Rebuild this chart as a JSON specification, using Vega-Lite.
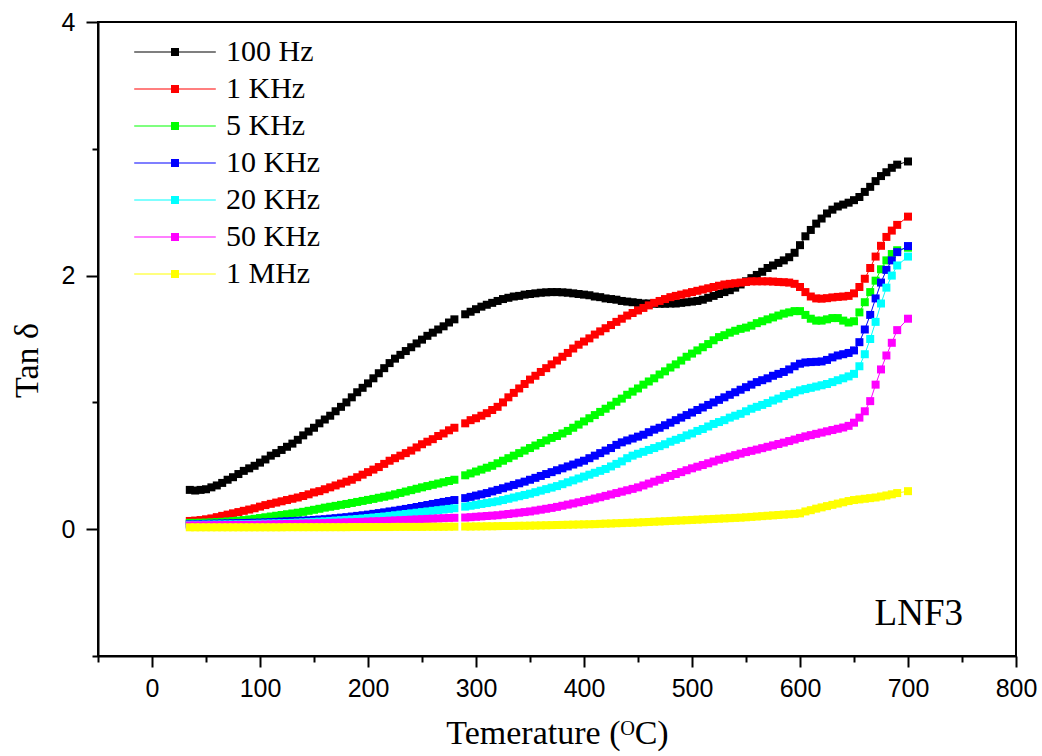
{
  "$schema": "https://vega.github.io/schema/vega-lite/v6.json",
  "width": 918,
  "height": 634,
  "autosize": {"type": "none"},
  "padding": {"left": 98, "top": 22, "right": 26, "bottom": 100},
  "background": "white",
  "config": {
    "font": "Liberation Sans",
    "view": {"stroke": "black", "strokeWidth": 2},
    "axis": {"grid": false, "domainColor": "black", "domainWidth": 2, "tickColor": "black", "tickWidth": 2, "labelColor": "black", "labelFont": "Liberation Sans", "labelFontSize": 25, "titleFont": "Liberation Serif", "titleFontSize": 34, "titleFontWeight": "normal", "titleColor": "black", "labelFlush": false, "labelOverlap": false}
  },
  "data": {"values": [
{"s":"100 Hz","t":35,"v":0.31},{"s":"100 Hz","t":40,"v":0.305},{"s":"100 Hz","t":45,"v":0.31},{"s":"100 Hz","t":50,"v":0.315},{"s":"100 Hz","t":55,"v":0.33},{"s":"100 Hz","t":60,"v":0.345},{"s":"100 Hz","t":65,"v":0.365},{"s":"100 Hz","t":70,"v":0.39},{"s":"100 Hz","t":75,"v":0.41},{"s":"100 Hz","t":80,"v":0.435},{"s":"100 Hz","t":85,"v":0.46},{"s":"100 Hz","t":90,"v":0.48},{"s":"100 Hz","t":95,"v":0.5},{"s":"100 Hz","t":100,"v":0.525},{"s":"100 Hz","t":105,"v":0.55},{"s":"100 Hz","t":110,"v":0.58},{"s":"100 Hz","t":115,"v":0.6},{"s":"100 Hz","t":120,"v":0.625},{"s":"100 Hz","t":125,"v":0.65},{"s":"100 Hz","t":130,"v":0.675},{"s":"100 Hz","t":135,"v":0.705},{"s":"100 Hz","t":140,"v":0.74},{"s":"100 Hz","t":145,"v":0.77},{"s":"100 Hz","t":150,"v":0.8},{"s":"100 Hz","t":155,"v":0.835},{"s":"100 Hz","t":160,"v":0.865},{"s":"100 Hz","t":165,"v":0.895},{"s":"100 Hz","t":170,"v":0.93},{"s":"100 Hz","t":175,"v":0.965},{"s":"100 Hz","t":180,"v":1.0},{"s":"100 Hz","t":185,"v":1.04},{"s":"100 Hz","t":190,"v":1.08},{"s":"100 Hz","t":195,"v":1.115},{"s":"100 Hz","t":200,"v":1.15},{"s":"100 Hz","t":205,"v":1.19},{"s":"100 Hz","t":210,"v":1.23},{"s":"100 Hz","t":215,"v":1.27},{"s":"100 Hz","t":220,"v":1.31},{"s":"100 Hz","t":225,"v":1.345},{"s":"100 Hz","t":230,"v":1.375},{"s":"100 Hz","t":235,"v":1.405},{"s":"100 Hz","t":240,"v":1.435},{"s":"100 Hz","t":245,"v":1.465},{"s":"100 Hz","t":250,"v":1.495},{"s":"100 Hz","t":255,"v":1.525},{"s":"100 Hz","t":260,"v":1.55},{"s":"100 Hz","t":265,"v":1.575},{"s":"100 Hz","t":270,"v":1.6},{"s":"100 Hz","t":275,"v":1.63},{"s":"100 Hz","t":280,"v":1.655},
{"s":"100 Hz","t":290,"v":1.695},{"s":"100 Hz","t":295,"v":1.715},{"s":"100 Hz","t":300,"v":1.735},{"s":"100 Hz","t":305,"v":1.755},{"s":"100 Hz","t":310,"v":1.77},{"s":"100 Hz","t":315,"v":1.785},{"s":"100 Hz","t":320,"v":1.8},{"s":"100 Hz","t":325,"v":1.815},{"s":"100 Hz","t":330,"v":1.825},{"s":"100 Hz","t":335,"v":1.835},{"s":"100 Hz","t":340,"v":1.84},{"s":"100 Hz","t":345,"v":1.85},{"s":"100 Hz","t":350,"v":1.855},{"s":"100 Hz","t":355,"v":1.86},{"s":"100 Hz","t":360,"v":1.865},{"s":"100 Hz","t":365,"v":1.868},{"s":"100 Hz","t":370,"v":1.87},{"s":"100 Hz","t":375,"v":1.87},{"s":"100 Hz","t":380,"v":1.868},{"s":"100 Hz","t":385,"v":1.865},{"s":"100 Hz","t":390,"v":1.86},{"s":"100 Hz","t":395,"v":1.855},{"s":"100 Hz","t":400,"v":1.85},{"s":"100 Hz","t":405,"v":1.845},{"s":"100 Hz","t":410,"v":1.835},{"s":"100 Hz","t":415,"v":1.83},{"s":"100 Hz","t":420,"v":1.82},{"s":"100 Hz","t":425,"v":1.815},{"s":"100 Hz","t":430,"v":1.81},{"s":"100 Hz","t":435,"v":1.8},{"s":"100 Hz","t":440,"v":1.795},{"s":"100 Hz","t":445,"v":1.79},{"s":"100 Hz","t":450,"v":1.785},{"s":"100 Hz","t":455,"v":1.78},{"s":"100 Hz","t":460,"v":1.78},{"s":"100 Hz","t":465,"v":1.778},{"s":"100 Hz","t":470,"v":1.778},{"s":"100 Hz","t":475,"v":1.778},{"s":"100 Hz","t":480,"v":1.78},{"s":"100 Hz","t":485,"v":1.78},{"s":"100 Hz","t":490,"v":1.785},{"s":"100 Hz","t":495,"v":1.79},{"s":"100 Hz","t":500,"v":1.795},{"s":"100 Hz","t":505,"v":1.8},{"s":"100 Hz","t":510,"v":1.81},{"s":"100 Hz","t":515,"v":1.825},{"s":"100 Hz","t":520,"v":1.84},{"s":"100 Hz","t":525,"v":1.855},{"s":"100 Hz","t":530,"v":1.87},{"s":"100 Hz","t":535,"v":1.885},{"s":"100 Hz","t":540,"v":1.905},{"s":"100 Hz","t":545,"v":1.93},{"s":"100 Hz","t":550,"v":1.955},{"s":"100 Hz","t":555,"v":1.98},{"s":"100 Hz","t":560,"v":2.005},{"s":"100 Hz","t":565,"v":2.03},{"s":"100 Hz","t":570,"v":2.06},{"s":"100 Hz","t":575,"v":2.08},{"s":"100 Hz","t":580,"v":2.1},{"s":"100 Hz","t":585,"v":2.12},{"s":"100 Hz","t":590,"v":2.145},{"s":"100 Hz","t":595,"v":2.18},{"s":"100 Hz","t":600,"v":2.24},{"s":"100 Hz","t":605,"v":2.31},{"s":"100 Hz","t":610,"v":2.36},{"s":"100 Hz","t":615,"v":2.41},{"s":"100 Hz","t":620,"v":2.45},{"s":"100 Hz","t":625,"v":2.49},{"s":"100 Hz","t":630,"v":2.52},{"s":"100 Hz","t":635,"v":2.545},{"s":"100 Hz","t":640,"v":2.56},{"s":"100 Hz","t":645,"v":2.575},{"s":"100 Hz","t":650,"v":2.595},{"s":"100 Hz","t":655,"v":2.62},{"s":"100 Hz","t":660,"v":2.66},{"s":"100 Hz","t":665,"v":2.7},{"s":"100 Hz","t":670,"v":2.745},{"s":"100 Hz","t":675,"v":2.785},{"s":"100 Hz","t":680,"v":2.815},{"s":"100 Hz","t":685,"v":2.85},{"s":"100 Hz","t":690,"v":2.875},{"s":"100 Hz","t":700,"v":2.9},
{"s":"1 KHz","t":35,"v":0.065},{"s":"1 KHz","t":40,"v":0.068},{"s":"1 KHz","t":45,"v":0.072},{"s":"1 KHz","t":50,"v":0.078},{"s":"1 KHz","t":55,"v":0.085},{"s":"1 KHz","t":60,"v":0.095},{"s":"1 KHz","t":65,"v":0.105},{"s":"1 KHz","t":70,"v":0.115},{"s":"1 KHz","t":75,"v":0.125},{"s":"1 KHz","t":80,"v":0.135},{"s":"1 KHz","t":85,"v":0.145},{"s":"1 KHz","t":90,"v":0.155},{"s":"1 KHz","t":95,"v":0.165},{"s":"1 KHz","t":100,"v":0.178},{"s":"1 KHz","t":105,"v":0.19},{"s":"1 KHz","t":110,"v":0.2},{"s":"1 KHz","t":115,"v":0.21},{"s":"1 KHz","t":120,"v":0.22},{"s":"1 KHz","t":125,"v":0.23},{"s":"1 KHz","t":130,"v":0.24},{"s":"1 KHz","t":135,"v":0.25},{"s":"1 KHz","t":140,"v":0.262},{"s":"1 KHz","t":145,"v":0.275},{"s":"1 KHz","t":150,"v":0.29},{"s":"1 KHz","t":155,"v":0.3},{"s":"1 KHz","t":160,"v":0.315},{"s":"1 KHz","t":165,"v":0.33},{"s":"1 KHz","t":170,"v":0.345},{"s":"1 KHz","t":175,"v":0.36},{"s":"1 KHz","t":180,"v":0.375},{"s":"1 KHz","t":185,"v":0.39},{"s":"1 KHz","t":190,"v":0.41},{"s":"1 KHz","t":195,"v":0.43},{"s":"1 KHz","t":200,"v":0.45},{"s":"1 KHz","t":205,"v":0.47},{"s":"1 KHz","t":210,"v":0.49},{"s":"1 KHz","t":215,"v":0.515},{"s":"1 KHz","t":220,"v":0.54},{"s":"1 KHz","t":225,"v":0.56},{"s":"1 KHz","t":230,"v":0.58},{"s":"1 KHz","t":235,"v":0.6},{"s":"1 KHz","t":240,"v":0.62},{"s":"1 KHz","t":245,"v":0.645},{"s":"1 KHz","t":250,"v":0.67},{"s":"1 KHz","t":255,"v":0.69},{"s":"1 KHz","t":260,"v":0.71},{"s":"1 KHz","t":265,"v":0.735},{"s":"1 KHz","t":270,"v":0.755},{"s":"1 KHz","t":275,"v":0.78},{"s":"1 KHz","t":280,"v":0.8},
{"s":"1 KHz","t":290,"v":0.835},{"s":"1 KHz","t":295,"v":0.86},{"s":"1 KHz","t":300,"v":0.875},{"s":"1 KHz","t":305,"v":0.895},{"s":"1 KHz","t":310,"v":0.915},{"s":"1 KHz","t":315,"v":0.94},{"s":"1 KHz","t":320,"v":0.965},{"s":"1 KHz","t":325,"v":1.0},{"s":"1 KHz","t":330,"v":1.04},{"s":"1 KHz","t":335,"v":1.075},{"s":"1 KHz","t":340,"v":1.11},{"s":"1 KHz","t":345,"v":1.145},{"s":"1 KHz","t":350,"v":1.18},{"s":"1 KHz","t":355,"v":1.21},{"s":"1 KHz","t":360,"v":1.24},{"s":"1 KHz","t":365,"v":1.27},{"s":"1 KHz","t":370,"v":1.3},{"s":"1 KHz","t":375,"v":1.33},{"s":"1 KHz","t":380,"v":1.36},{"s":"1 KHz","t":385,"v":1.39},{"s":"1 KHz","t":390,"v":1.425},{"s":"1 KHz","t":395,"v":1.455},{"s":"1 KHz","t":400,"v":1.48},{"s":"1 KHz","t":405,"v":1.505},{"s":"1 KHz","t":410,"v":1.535},{"s":"1 KHz","t":415,"v":1.56},{"s":"1 KHz","t":420,"v":1.585},{"s":"1 KHz","t":425,"v":1.61},{"s":"1 KHz","t":430,"v":1.635},{"s":"1 KHz","t":435,"v":1.66},{"s":"1 KHz","t":440,"v":1.685},{"s":"1 KHz","t":445,"v":1.705},{"s":"1 KHz","t":450,"v":1.725},{"s":"1 KHz","t":455,"v":1.745},{"s":"1 KHz","t":460,"v":1.765},{"s":"1 KHz","t":465,"v":1.785},{"s":"1 KHz","t":470,"v":1.8},{"s":"1 KHz","t":475,"v":1.815},{"s":"1 KHz","t":480,"v":1.83},{"s":"1 KHz","t":485,"v":1.84},{"s":"1 KHz","t":490,"v":1.85},{"s":"1 KHz","t":495,"v":1.86},{"s":"1 KHz","t":500,"v":1.87},{"s":"1 KHz","t":505,"v":1.88},{"s":"1 KHz","t":510,"v":1.89},{"s":"1 KHz","t":515,"v":1.9},{"s":"1 KHz","t":520,"v":1.91},{"s":"1 KHz","t":525,"v":1.92},{"s":"1 KHz","t":530,"v":1.93},{"s":"1 KHz","t":535,"v":1.935},{"s":"1 KHz","t":540,"v":1.94},{"s":"1 KHz","t":545,"v":1.945},{"s":"1 KHz","t":550,"v":1.95},{"s":"1 KHz","t":555,"v":1.955},{"s":"1 KHz","t":560,"v":1.955},{"s":"1 KHz","t":565,"v":1.955},{"s":"1 KHz","t":570,"v":1.955},{"s":"1 KHz","t":575,"v":1.953},{"s":"1 KHz","t":580,"v":1.95},{"s":"1 KHz","t":585,"v":1.948},{"s":"1 KHz","t":590,"v":1.945},{"s":"1 KHz","t":595,"v":1.935},{"s":"1 KHz","t":600,"v":1.91},{"s":"1 KHz","t":605,"v":1.87},{"s":"1 KHz","t":610,"v":1.835},{"s":"1 KHz","t":615,"v":1.82},{"s":"1 KHz","t":620,"v":1.818},{"s":"1 KHz","t":625,"v":1.822},{"s":"1 KHz","t":630,"v":1.828},{"s":"1 KHz","t":635,"v":1.832},{"s":"1 KHz","t":640,"v":1.835},{"s":"1 KHz","t":645,"v":1.84},{"s":"1 KHz","t":650,"v":1.86},{"s":"1 KHz","t":655,"v":1.91},{"s":"1 KHz","t":660,"v":1.975},{"s":"1 KHz","t":665,"v":2.06},{"s":"1 KHz","t":670,"v":2.15},{"s":"1 KHz","t":675,"v":2.235},{"s":"1 KHz","t":680,"v":2.305},{"s":"1 KHz","t":685,"v":2.355},{"s":"1 KHz","t":690,"v":2.4},{"s":"1 KHz","t":700,"v":2.465},
{"s":"5 KHz","t":35,"v":0.05},{"s":"5 KHz","t":40,"v":0.05},{"s":"5 KHz","t":45,"v":0.051},{"s":"5 KHz","t":50,"v":0.052},{"s":"5 KHz","t":55,"v":0.054},{"s":"5 KHz","t":60,"v":0.056},{"s":"5 KHz","t":65,"v":0.058},{"s":"5 KHz","t":70,"v":0.061},{"s":"5 KHz","t":75,"v":0.064},{"s":"5 KHz","t":80,"v":0.068},{"s":"5 KHz","t":85,"v":0.072},{"s":"5 KHz","t":90,"v":0.077},{"s":"5 KHz","t":95,"v":0.082},{"s":"5 KHz","t":100,"v":0.088},{"s":"5 KHz","t":105,"v":0.094},{"s":"5 KHz","t":110,"v":0.1},{"s":"5 KHz","t":115,"v":0.106},{"s":"5 KHz","t":120,"v":0.112},{"s":"5 KHz","t":125,"v":0.118},{"s":"5 KHz","t":130,"v":0.124},{"s":"5 KHz","t":135,"v":0.13},{"s":"5 KHz","t":140,"v":0.137},{"s":"5 KHz","t":145,"v":0.145},{"s":"5 KHz","t":150,"v":0.153},{"s":"5 KHz","t":155,"v":0.161},{"s":"5 KHz","t":160,"v":0.17},{"s":"5 KHz","t":165,"v":0.177},{"s":"5 KHz","t":170,"v":0.184},{"s":"5 KHz","t":175,"v":0.192},{"s":"5 KHz","t":180,"v":0.199},{"s":"5 KHz","t":185,"v":0.207},{"s":"5 KHz","t":190,"v":0.215},{"s":"5 KHz","t":195,"v":0.223},{"s":"5 KHz","t":200,"v":0.231},{"s":"5 KHz","t":205,"v":0.239},{"s":"5 KHz","t":210,"v":0.248},{"s":"5 KHz","t":215,"v":0.256},{"s":"5 KHz","t":220,"v":0.265},{"s":"5 KHz","t":225,"v":0.275},{"s":"5 KHz","t":230,"v":0.286},{"s":"5 KHz","t":235,"v":0.297},{"s":"5 KHz","t":240,"v":0.308},{"s":"5 KHz","t":245,"v":0.319},{"s":"5 KHz","t":250,"v":0.33},{"s":"5 KHz","t":255,"v":0.34},{"s":"5 KHz","t":260,"v":0.35},{"s":"5 KHz","t":265,"v":0.36},{"s":"5 KHz","t":270,"v":0.37},{"s":"5 KHz","t":275,"v":0.38},{"s":"5 KHz","t":280,"v":0.39},
{"s":"5 KHz","t":290,"v":0.425},{"s":"5 KHz","t":295,"v":0.44},{"s":"5 KHz","t":300,"v":0.455},{"s":"5 KHz","t":305,"v":0.47},{"s":"5 KHz","t":310,"v":0.485},{"s":"5 KHz","t":315,"v":0.5},{"s":"5 KHz","t":320,"v":0.52},{"s":"5 KHz","t":325,"v":0.54},{"s":"5 KHz","t":330,"v":0.56},{"s":"5 KHz","t":335,"v":0.58},{"s":"5 KHz","t":340,"v":0.6},{"s":"5 KHz","t":345,"v":0.62},{"s":"5 KHz","t":350,"v":0.64},{"s":"5 KHz","t":355,"v":0.66},{"s":"5 KHz","t":360,"v":0.68},{"s":"5 KHz","t":365,"v":0.7},{"s":"5 KHz","t":370,"v":0.72},{"s":"5 KHz","t":375,"v":0.735},{"s":"5 KHz","t":380,"v":0.755},{"s":"5 KHz","t":385,"v":0.775},{"s":"5 KHz","t":390,"v":0.8},{"s":"5 KHz","t":395,"v":0.825},{"s":"5 KHz","t":400,"v":0.85},{"s":"5 KHz","t":405,"v":0.875},{"s":"5 KHz","t":410,"v":0.9},{"s":"5 KHz","t":415,"v":0.925},{"s":"5 KHz","t":420,"v":0.95},{"s":"5 KHz","t":425,"v":0.975},{"s":"5 KHz","t":430,"v":1.005},{"s":"5 KHz","t":435,"v":1.03},{"s":"5 KHz","t":440,"v":1.06},{"s":"5 KHz","t":445,"v":1.085},{"s":"5 KHz","t":450,"v":1.11},{"s":"5 KHz","t":455,"v":1.14},{"s":"5 KHz","t":460,"v":1.165},{"s":"5 KHz","t":465,"v":1.19},{"s":"5 KHz","t":470,"v":1.22},{"s":"5 KHz","t":475,"v":1.245},{"s":"5 KHz","t":480,"v":1.275},{"s":"5 KHz","t":485,"v":1.3},{"s":"5 KHz","t":490,"v":1.33},{"s":"5 KHz","t":495,"v":1.36},{"s":"5 KHz","t":500,"v":1.385},{"s":"5 KHz","t":505,"v":1.41},{"s":"5 KHz","t":510,"v":1.435},{"s":"5 KHz","t":515,"v":1.46},{"s":"5 KHz","t":520,"v":1.49},{"s":"5 KHz","t":525,"v":1.515},{"s":"5 KHz","t":530,"v":1.53},{"s":"5 KHz","t":535,"v":1.55},{"s":"5 KHz","t":540,"v":1.565},{"s":"5 KHz","t":545,"v":1.58},{"s":"5 KHz","t":550,"v":1.59},{"s":"5 KHz","t":555,"v":1.605},{"s":"5 KHz","t":560,"v":1.625},{"s":"5 KHz","t":565,"v":1.64},{"s":"5 KHz","t":570,"v":1.655},{"s":"5 KHz","t":575,"v":1.67},{"s":"5 KHz","t":580,"v":1.685},{"s":"5 KHz","t":585,"v":1.7},{"s":"5 KHz","t":590,"v":1.71},{"s":"5 KHz","t":595,"v":1.72},{"s":"5 KHz","t":600,"v":1.72},{"s":"5 KHz","t":605,"v":1.69},{"s":"5 KHz","t":610,"v":1.66},{"s":"5 KHz","t":615,"v":1.645},{"s":"5 KHz","t":620,"v":1.645},{"s":"5 KHz","t":625,"v":1.655},{"s":"5 KHz","t":630,"v":1.665},{"s":"5 KHz","t":635,"v":1.665},{"s":"5 KHz","t":640,"v":1.645},{"s":"5 KHz","t":645,"v":1.63},{"s":"5 KHz","t":650,"v":1.64},{"s":"5 KHz","t":655,"v":1.71},{"s":"5 KHz","t":660,"v":1.79},{"s":"5 KHz","t":665,"v":1.87},{"s":"5 KHz","t":670,"v":1.96},{"s":"5 KHz","t":675,"v":2.05},{"s":"5 KHz","t":680,"v":2.12},{"s":"5 KHz","t":685,"v":2.17},{"s":"5 KHz","t":690,"v":2.2},{"s":"5 KHz","t":700,"v":2.22},
{"s":"10 KHz","t":35,"v":0.04},{"s":"10 KHz","t":40,"v":0.04},{"s":"10 KHz","t":45,"v":0.041},{"s":"10 KHz","t":50,"v":0.042},{"s":"10 KHz","t":55,"v":0.043},{"s":"10 KHz","t":60,"v":0.044},{"s":"10 KHz","t":65,"v":0.045},{"s":"10 KHz","t":70,"v":0.046},{"s":"10 KHz","t":75,"v":0.047},{"s":"10 KHz","t":80,"v":0.048},{"s":"10 KHz","t":85,"v":0.049},{"s":"10 KHz","t":90,"v":0.05},{"s":"10 KHz","t":95,"v":0.051},{"s":"10 KHz","t":100,"v":0.052},{"s":"10 KHz","t":105,"v":0.054},{"s":"10 KHz","t":110,"v":0.056},{"s":"10 KHz","t":115,"v":0.058},{"s":"10 KHz","t":120,"v":0.06},{"s":"10 KHz","t":125,"v":0.062},{"s":"10 KHz","t":130,"v":0.064},{"s":"10 KHz","t":135,"v":0.066},{"s":"10 KHz","t":140,"v":0.068},{"s":"10 KHz","t":145,"v":0.07},{"s":"10 KHz","t":150,"v":0.073},{"s":"10 KHz","t":155,"v":0.076},{"s":"10 KHz","t":160,"v":0.079},{"s":"10 KHz","t":165,"v":0.083},{"s":"10 KHz","t":170,"v":0.087},{"s":"10 KHz","t":175,"v":0.091},{"s":"10 KHz","t":180,"v":0.095},{"s":"10 KHz","t":185,"v":0.1},{"s":"10 KHz","t":190,"v":0.105},{"s":"10 KHz","t":195,"v":0.11},{"s":"10 KHz","t":200,"v":0.115},{"s":"10 KHz","t":205,"v":0.121},{"s":"10 KHz","t":210,"v":0.127},{"s":"10 KHz","t":215,"v":0.133},{"s":"10 KHz","t":220,"v":0.14},{"s":"10 KHz","t":225,"v":0.146},{"s":"10 KHz","t":230,"v":0.153},{"s":"10 KHz","t":235,"v":0.16},{"s":"10 KHz","t":240,"v":0.167},{"s":"10 KHz","t":245,"v":0.175},{"s":"10 KHz","t":250,"v":0.183},{"s":"10 KHz","t":255,"v":0.191},{"s":"10 KHz","t":260,"v":0.199},{"s":"10 KHz","t":265,"v":0.207},{"s":"10 KHz","t":270,"v":0.215},{"s":"10 KHz","t":275,"v":0.222},{"s":"10 KHz","t":280,"v":0.23},
{"s":"10 KHz","t":290,"v":0.245},{"s":"10 KHz","t":295,"v":0.255},{"s":"10 KHz","t":300,"v":0.265},{"s":"10 KHz","t":305,"v":0.275},{"s":"10 KHz","t":310,"v":0.285},{"s":"10 KHz","t":315,"v":0.298},{"s":"10 KHz","t":320,"v":0.31},{"s":"10 KHz","t":325,"v":0.323},{"s":"10 KHz","t":330,"v":0.336},{"s":"10 KHz","t":335,"v":0.349},{"s":"10 KHz","t":340,"v":0.362},{"s":"10 KHz","t":345,"v":0.375},{"s":"10 KHz","t":350,"v":0.39},{"s":"10 KHz","t":355,"v":0.405},{"s":"10 KHz","t":360,"v":0.42},{"s":"10 KHz","t":365,"v":0.435},{"s":"10 KHz","t":370,"v":0.45},{"s":"10 KHz","t":375,"v":0.465},{"s":"10 KHz","t":380,"v":0.48},{"s":"10 KHz","t":385,"v":0.495},{"s":"10 KHz","t":390,"v":0.51},{"s":"10 KHz","t":395,"v":0.525},{"s":"10 KHz","t":400,"v":0.54},{"s":"10 KHz","t":405,"v":0.56},{"s":"10 KHz","t":410,"v":0.58},{"s":"10 KHz","t":415,"v":0.6},{"s":"10 KHz","t":420,"v":0.62},{"s":"10 KHz","t":425,"v":0.64},{"s":"10 KHz","t":430,"v":0.665},{"s":"10 KHz","t":435,"v":0.685},{"s":"10 KHz","t":440,"v":0.7},{"s":"10 KHz","t":445,"v":0.715},{"s":"10 KHz","t":450,"v":0.73},{"s":"10 KHz","t":455,"v":0.745},{"s":"10 KHz","t":460,"v":0.765},{"s":"10 KHz","t":465,"v":0.785},{"s":"10 KHz","t":470,"v":0.8},{"s":"10 KHz","t":475,"v":0.82},{"s":"10 KHz","t":480,"v":0.84},{"s":"10 KHz","t":485,"v":0.86},{"s":"10 KHz","t":490,"v":0.88},{"s":"10 KHz","t":495,"v":0.9},{"s":"10 KHz","t":500,"v":0.92},{"s":"10 KHz","t":505,"v":0.94},{"s":"10 KHz","t":510,"v":0.96},{"s":"10 KHz","t":515,"v":0.98},{"s":"10 KHz","t":520,"v":1.0},{"s":"10 KHz","t":525,"v":1.02},{"s":"10 KHz","t":530,"v":1.04},{"s":"10 KHz","t":535,"v":1.06},{"s":"10 KHz","t":540,"v":1.08},{"s":"10 KHz","t":545,"v":1.1},{"s":"10 KHz","t":550,"v":1.12},{"s":"10 KHz","t":555,"v":1.14},{"s":"10 KHz","t":560,"v":1.16},{"s":"10 KHz","t":565,"v":1.175},{"s":"10 KHz","t":570,"v":1.19},{"s":"10 KHz","t":575,"v":1.21},{"s":"10 KHz","t":580,"v":1.225},{"s":"10 KHz","t":585,"v":1.24},{"s":"10 KHz","t":590,"v":1.26},{"s":"10 KHz","t":595,"v":1.285},{"s":"10 KHz","t":600,"v":1.305},{"s":"10 KHz","t":605,"v":1.315},{"s":"10 KHz","t":610,"v":1.318},{"s":"10 KHz","t":615,"v":1.32},{"s":"10 KHz","t":620,"v":1.323},{"s":"10 KHz","t":625,"v":1.335},{"s":"10 KHz","t":630,"v":1.355},{"s":"10 KHz","t":635,"v":1.37},{"s":"10 KHz","t":640,"v":1.38},{"s":"10 KHz","t":645,"v":1.39},{"s":"10 KHz","t":650,"v":1.41},{"s":"10 KHz","t":655,"v":1.475},{"s":"10 KHz","t":660,"v":1.575},{"s":"10 KHz","t":665,"v":1.69},{"s":"10 KHz","t":670,"v":1.82},{"s":"10 KHz","t":675,"v":1.945},{"s":"10 KHz","t":680,"v":2.045},{"s":"10 KHz","t":685,"v":2.12},{"s":"10 KHz","t":690,"v":2.185},{"s":"10 KHz","t":700,"v":2.233},
{"s":"20 KHz","t":35,"v":0.035},{"s":"20 KHz","t":40,"v":0.035},{"s":"20 KHz","t":45,"v":0.035},{"s":"20 KHz","t":50,"v":0.036},{"s":"20 KHz","t":55,"v":0.036},{"s":"20 KHz","t":60,"v":0.037},{"s":"20 KHz","t":65,"v":0.037},{"s":"20 KHz","t":70,"v":0.038},{"s":"20 KHz","t":75,"v":0.038},{"s":"20 KHz","t":80,"v":0.039},{"s":"20 KHz","t":85,"v":0.04},{"s":"20 KHz","t":90,"v":0.041},{"s":"20 KHz","t":95,"v":0.042},{"s":"20 KHz","t":100,"v":0.043},{"s":"20 KHz","t":105,"v":0.044},{"s":"20 KHz","t":110,"v":0.045},{"s":"20 KHz","t":115,"v":0.046},{"s":"20 KHz","t":120,"v":0.047},{"s":"20 KHz","t":125,"v":0.048},{"s":"20 KHz","t":130,"v":0.05},{"s":"20 KHz","t":135,"v":0.052},{"s":"20 KHz","t":140,"v":0.054},{"s":"20 KHz","t":145,"v":0.056},{"s":"20 KHz","t":150,"v":0.058},{"s":"20 KHz","t":155,"v":0.06},{"s":"20 KHz","t":160,"v":0.062},{"s":"20 KHz","t":165,"v":0.065},{"s":"20 KHz","t":170,"v":0.068},{"s":"20 KHz","t":175,"v":0.071},{"s":"20 KHz","t":180,"v":0.074},{"s":"20 KHz","t":185,"v":0.077},{"s":"20 KHz","t":190,"v":0.08},{"s":"20 KHz","t":195,"v":0.084},{"s":"20 KHz","t":200,"v":0.088},{"s":"20 KHz","t":205,"v":0.092},{"s":"20 KHz","t":210,"v":0.096},{"s":"20 KHz","t":215,"v":0.1},{"s":"20 KHz","t":220,"v":0.105},{"s":"20 KHz","t":225,"v":0.11},{"s":"20 KHz","t":230,"v":0.115},{"s":"20 KHz","t":235,"v":0.12},{"s":"20 KHz","t":240,"v":0.125},{"s":"20 KHz","t":245,"v":0.13},{"s":"20 KHz","t":250,"v":0.135},{"s":"20 KHz","t":255,"v":0.14},{"s":"20 KHz","t":260,"v":0.145},{"s":"20 KHz","t":265,"v":0.15},{"s":"20 KHz","t":270,"v":0.155},{"s":"20 KHz","t":275,"v":0.16},{"s":"20 KHz","t":280,"v":0.165},
{"s":"20 KHz","t":290,"v":0.178},{"s":"20 KHz","t":295,"v":0.185},{"s":"20 KHz","t":300,"v":0.192},{"s":"20 KHz","t":305,"v":0.199},{"s":"20 KHz","t":310,"v":0.206},{"s":"20 KHz","t":315,"v":0.213},{"s":"20 KHz","t":320,"v":0.22},{"s":"20 KHz","t":325,"v":0.23},{"s":"20 KHz","t":330,"v":0.24},{"s":"20 KHz","t":335,"v":0.25},{"s":"20 KHz","t":340,"v":0.26},{"s":"20 KHz","t":345,"v":0.27},{"s":"20 KHz","t":350,"v":0.28},{"s":"20 KHz","t":355,"v":0.292},{"s":"20 KHz","t":360,"v":0.304},{"s":"20 KHz","t":365,"v":0.316},{"s":"20 KHz","t":370,"v":0.328},{"s":"20 KHz","t":375,"v":0.34},{"s":"20 KHz","t":380,"v":0.355},{"s":"20 KHz","t":385,"v":0.37},{"s":"20 KHz","t":390,"v":0.385},{"s":"20 KHz","t":395,"v":0.4},{"s":"20 KHz","t":400,"v":0.415},{"s":"20 KHz","t":405,"v":0.43},{"s":"20 KHz","t":410,"v":0.445},{"s":"20 KHz","t":415,"v":0.46},{"s":"20 KHz","t":420,"v":0.475},{"s":"20 KHz","t":425,"v":0.495},{"s":"20 KHz","t":430,"v":0.515},{"s":"20 KHz","t":435,"v":0.535},{"s":"20 KHz","t":440,"v":0.56},{"s":"20 KHz","t":445,"v":0.58},{"s":"20 KHz","t":450,"v":0.595},{"s":"20 KHz","t":455,"v":0.61},{"s":"20 KHz","t":460,"v":0.625},{"s":"20 KHz","t":465,"v":0.64},{"s":"20 KHz","t":470,"v":0.655},{"s":"20 KHz","t":475,"v":0.67},{"s":"20 KHz","t":480,"v":0.69},{"s":"20 KHz","t":485,"v":0.705},{"s":"20 KHz","t":490,"v":0.72},{"s":"20 KHz","t":495,"v":0.74},{"s":"20 KHz","t":500,"v":0.755},{"s":"20 KHz","t":505,"v":0.775},{"s":"20 KHz","t":510,"v":0.79},{"s":"20 KHz","t":515,"v":0.81},{"s":"20 KHz","t":520,"v":0.83},{"s":"20 KHz","t":525,"v":0.845},{"s":"20 KHz","t":530,"v":0.86},{"s":"20 KHz","t":535,"v":0.88},{"s":"20 KHz","t":540,"v":0.895},{"s":"20 KHz","t":545,"v":0.91},{"s":"20 KHz","t":550,"v":0.93},{"s":"20 KHz","t":555,"v":0.95},{"s":"20 KHz","t":560,"v":0.965},{"s":"20 KHz","t":565,"v":0.98},{"s":"20 KHz","t":570,"v":0.995},{"s":"20 KHz","t":575,"v":1.015},{"s":"20 KHz","t":580,"v":1.03},{"s":"20 KHz","t":585,"v":1.05},{"s":"20 KHz","t":590,"v":1.065},{"s":"20 KHz","t":595,"v":1.08},{"s":"20 KHz","t":600,"v":1.095},{"s":"20 KHz","t":605,"v":1.105},{"s":"20 KHz","t":610,"v":1.115},{"s":"20 KHz","t":615,"v":1.125},{"s":"20 KHz","t":620,"v":1.135},{"s":"20 KHz","t":625,"v":1.145},{"s":"20 KHz","t":630,"v":1.16},{"s":"20 KHz","t":635,"v":1.175},{"s":"20 KHz","t":640,"v":1.19},{"s":"20 KHz","t":645,"v":1.205},{"s":"20 KHz","t":650,"v":1.225},{"s":"20 KHz","t":655,"v":1.285},{"s":"20 KHz","t":660,"v":1.38},{"s":"20 KHz","t":665,"v":1.5},{"s":"20 KHz","t":670,"v":1.635},{"s":"20 KHz","t":675,"v":1.78},{"s":"20 KHz","t":680,"v":1.905},{"s":"20 KHz","t":685,"v":2.0},{"s":"20 KHz","t":690,"v":2.08},{"s":"20 KHz","t":700,"v":2.15},
{"s":"50 KHz","t":35,"v":0.03},{"s":"50 KHz","t":40,"v":0.03},{"s":"50 KHz","t":45,"v":0.03},{"s":"50 KHz","t":50,"v":0.031},{"s":"50 KHz","t":55,"v":0.031},{"s":"50 KHz","t":60,"v":0.032},{"s":"50 KHz","t":65,"v":0.032},{"s":"50 KHz","t":70,"v":0.033},{"s":"50 KHz","t":75,"v":0.033},{"s":"50 KHz","t":80,"v":0.034},{"s":"50 KHz","t":85,"v":0.034},{"s":"50 KHz","t":90,"v":0.035},{"s":"50 KHz","t":95,"v":0.035},{"s":"50 KHz","t":100,"v":0.036},{"s":"50 KHz","t":105,"v":0.037},{"s":"50 KHz","t":110,"v":0.038},{"s":"50 KHz","t":115,"v":0.039},{"s":"50 KHz","t":120,"v":0.04},{"s":"50 KHz","t":125,"v":0.041},{"s":"50 KHz","t":130,"v":0.042},{"s":"50 KHz","t":135,"v":0.043},{"s":"50 KHz","t":140,"v":0.044},{"s":"50 KHz","t":145,"v":0.045},{"s":"50 KHz","t":150,"v":0.046},{"s":"50 KHz","t":155,"v":0.047},{"s":"50 KHz","t":160,"v":0.048},{"s":"50 KHz","t":165,"v":0.05},{"s":"50 KHz","t":170,"v":0.051},{"s":"50 KHz","t":175,"v":0.052},{"s":"50 KHz","t":180,"v":0.054},{"s":"50 KHz","t":185,"v":0.055},{"s":"50 KHz","t":190,"v":0.057},{"s":"50 KHz","t":195,"v":0.058},{"s":"50 KHz","t":200,"v":0.06},{"s":"50 KHz","t":205,"v":0.062},{"s":"50 KHz","t":210,"v":0.063},{"s":"50 KHz","t":215,"v":0.065},{"s":"50 KHz","t":220,"v":0.067},{"s":"50 KHz","t":225,"v":0.069},{"s":"50 KHz","t":230,"v":0.071},{"s":"50 KHz","t":235,"v":0.073},{"s":"50 KHz","t":240,"v":0.075},{"s":"50 KHz","t":245,"v":0.077},{"s":"50 KHz","t":250,"v":0.079},{"s":"50 KHz","t":255,"v":0.081},{"s":"50 KHz","t":260,"v":0.083},{"s":"50 KHz","t":265,"v":0.085},{"s":"50 KHz","t":270,"v":0.087},{"s":"50 KHz","t":275,"v":0.089},{"s":"50 KHz","t":280,"v":0.09},
{"s":"50 KHz","t":290,"v":0.092},{"s":"50 KHz","t":295,"v":0.095},{"s":"50 KHz","t":300,"v":0.098},{"s":"50 KHz","t":305,"v":0.101},{"s":"50 KHz","t":310,"v":0.104},{"s":"50 KHz","t":315,"v":0.107},{"s":"50 KHz","t":320,"v":0.11},{"s":"50 KHz","t":325,"v":0.115},{"s":"50 KHz","t":330,"v":0.12},{"s":"50 KHz","t":335,"v":0.125},{"s":"50 KHz","t":340,"v":0.13},{"s":"50 KHz","t":345,"v":0.135},{"s":"50 KHz","t":350,"v":0.14},{"s":"50 KHz","t":355,"v":0.147},{"s":"50 KHz","t":360,"v":0.154},{"s":"50 KHz","t":365,"v":0.161},{"s":"50 KHz","t":370,"v":0.168},{"s":"50 KHz","t":375,"v":0.176},{"s":"50 KHz","t":380,"v":0.185},{"s":"50 KHz","t":385,"v":0.194},{"s":"50 KHz","t":390,"v":0.203},{"s":"50 KHz","t":395,"v":0.212},{"s":"50 KHz","t":400,"v":0.222},{"s":"50 KHz","t":405,"v":0.232},{"s":"50 KHz","t":410,"v":0.242},{"s":"50 KHz","t":415,"v":0.252},{"s":"50 KHz","t":420,"v":0.263},{"s":"50 KHz","t":425,"v":0.274},{"s":"50 KHz","t":430,"v":0.285},{"s":"50 KHz","t":435,"v":0.296},{"s":"50 KHz","t":440,"v":0.307},{"s":"50 KHz","t":445,"v":0.318},{"s":"50 KHz","t":450,"v":0.33},{"s":"50 KHz","t":455,"v":0.345},{"s":"50 KHz","t":460,"v":0.36},{"s":"50 KHz","t":465,"v":0.375},{"s":"50 KHz","t":470,"v":0.39},{"s":"50 KHz","t":475,"v":0.405},{"s":"50 KHz","t":480,"v":0.42},{"s":"50 KHz","t":485,"v":0.435},{"s":"50 KHz","t":490,"v":0.45},{"s":"50 KHz","t":495,"v":0.465},{"s":"50 KHz","t":500,"v":0.48},{"s":"50 KHz","t":505,"v":0.493},{"s":"50 KHz","t":510,"v":0.506},{"s":"50 KHz","t":515,"v":0.52},{"s":"50 KHz","t":520,"v":0.534},{"s":"50 KHz","t":525,"v":0.548},{"s":"50 KHz","t":530,"v":0.56},{"s":"50 KHz","t":535,"v":0.572},{"s":"50 KHz","t":540,"v":0.584},{"s":"50 KHz","t":545,"v":0.596},{"s":"50 KHz","t":550,"v":0.608},{"s":"50 KHz","t":555,"v":0.618},{"s":"50 KHz","t":560,"v":0.628},{"s":"50 KHz","t":565,"v":0.639},{"s":"50 KHz","t":570,"v":0.65},{"s":"50 KHz","t":575,"v":0.661},{"s":"50 KHz","t":580,"v":0.672},{"s":"50 KHz","t":585,"v":0.683},{"s":"50 KHz","t":590,"v":0.695},{"s":"50 KHz","t":595,"v":0.707},{"s":"50 KHz","t":600,"v":0.72},{"s":"50 KHz","t":605,"v":0.732},{"s":"50 KHz","t":610,"v":0.742},{"s":"50 KHz","t":615,"v":0.752},{"s":"50 KHz","t":620,"v":0.762},{"s":"50 KHz","t":625,"v":0.772},{"s":"50 KHz","t":630,"v":0.782},{"s":"50 KHz","t":635,"v":0.792},{"s":"50 KHz","t":640,"v":0.802},{"s":"50 KHz","t":645,"v":0.815},{"s":"50 KHz","t":650,"v":0.84},{"s":"50 KHz","t":655,"v":0.88},{"s":"50 KHz","t":660,"v":0.93},{"s":"50 KHz","t":665,"v":1.01},{"s":"50 KHz","t":670,"v":1.14},{"s":"50 KHz","t":675,"v":1.26},{"s":"50 KHz","t":680,"v":1.37},{"s":"50 KHz","t":685,"v":1.47},{"s":"50 KHz","t":690,"v":1.57},{"s":"50 KHz","t":700,"v":1.66},
{"s":"1 MHz","t":35,"v":0.015},{"s":"1 MHz","t":40,"v":0.015},{"s":"1 MHz","t":45,"v":0.015},{"s":"1 MHz","t":50,"v":0.015},{"s":"1 MHz","t":55,"v":0.015},{"s":"1 MHz","t":60,"v":0.015},{"s":"1 MHz","t":65,"v":0.015},{"s":"1 MHz","t":70,"v":0.015},{"s":"1 MHz","t":75,"v":0.015},{"s":"1 MHz","t":80,"v":0.015},{"s":"1 MHz","t":85,"v":0.015},{"s":"1 MHz","t":90,"v":0.015},{"s":"1 MHz","t":95,"v":0.015},{"s":"1 MHz","t":100,"v":0.015},{"s":"1 MHz","t":105,"v":0.015},{"s":"1 MHz","t":110,"v":0.015},{"s":"1 MHz","t":115,"v":0.015},{"s":"1 MHz","t":120,"v":0.015},{"s":"1 MHz","t":125,"v":0.016},{"s":"1 MHz","t":130,"v":0.016},{"s":"1 MHz","t":135,"v":0.016},{"s":"1 MHz","t":140,"v":0.016},{"s":"1 MHz","t":145,"v":0.016},{"s":"1 MHz","t":150,"v":0.016},{"s":"1 MHz","t":155,"v":0.016},{"s":"1 MHz","t":160,"v":0.016},{"s":"1 MHz","t":165,"v":0.016},{"s":"1 MHz","t":170,"v":0.016},{"s":"1 MHz","t":175,"v":0.016},{"s":"1 MHz","t":180,"v":0.016},{"s":"1 MHz","t":185,"v":0.017},{"s":"1 MHz","t":190,"v":0.017},{"s":"1 MHz","t":195,"v":0.017},{"s":"1 MHz","t":200,"v":0.017},{"s":"1 MHz","t":205,"v":0.017},{"s":"1 MHz","t":210,"v":0.017},{"s":"1 MHz","t":215,"v":0.017},{"s":"1 MHz","t":220,"v":0.017},{"s":"1 MHz","t":225,"v":0.018},{"s":"1 MHz","t":230,"v":0.018},{"s":"1 MHz","t":235,"v":0.018},{"s":"1 MHz","t":240,"v":0.018},{"s":"1 MHz","t":245,"v":0.018},{"s":"1 MHz","t":250,"v":0.018},{"s":"1 MHz","t":255,"v":0.019},{"s":"1 MHz","t":260,"v":0.019},{"s":"1 MHz","t":265,"v":0.019},{"s":"1 MHz","t":270,"v":0.019},{"s":"1 MHz","t":275,"v":0.02},{"s":"1 MHz","t":280,"v":0.02},
{"s":"1 MHz","t":290,"v":0.021},{"s":"1 MHz","t":295,"v":0.021},{"s":"1 MHz","t":300,"v":0.022},{"s":"1 MHz","t":305,"v":0.022},{"s":"1 MHz","t":310,"v":0.023},{"s":"1 MHz","t":315,"v":0.023},{"s":"1 MHz","t":320,"v":0.024},{"s":"1 MHz","t":325,"v":0.025},{"s":"1 MHz","t":330,"v":0.025},{"s":"1 MHz","t":335,"v":0.026},{"s":"1 MHz","t":340,"v":0.027},{"s":"1 MHz","t":345,"v":0.027},{"s":"1 MHz","t":350,"v":0.028},{"s":"1 MHz","t":355,"v":0.029},{"s":"1 MHz","t":360,"v":0.03},{"s":"1 MHz","t":365,"v":0.031},{"s":"1 MHz","t":370,"v":0.032},{"s":"1 MHz","t":375,"v":0.033},{"s":"1 MHz","t":380,"v":0.034},{"s":"1 MHz","t":385,"v":0.035},{"s":"1 MHz","t":390,"v":0.036},{"s":"1 MHz","t":395,"v":0.037},{"s":"1 MHz","t":400,"v":0.038},{"s":"1 MHz","t":405,"v":0.039},{"s":"1 MHz","t":410,"v":0.04},{"s":"1 MHz","t":415,"v":0.042},{"s":"1 MHz","t":420,"v":0.044},{"s":"1 MHz","t":425,"v":0.045},{"s":"1 MHz","t":430,"v":0.047},{"s":"1 MHz","t":435,"v":0.048},{"s":"1 MHz","t":440,"v":0.05},{"s":"1 MHz","t":445,"v":0.051},{"s":"1 MHz","t":450,"v":0.053},{"s":"1 MHz","t":455,"v":0.055},{"s":"1 MHz","t":460,"v":0.057},{"s":"1 MHz","t":465,"v":0.059},{"s":"1 MHz","t":470,"v":0.061},{"s":"1 MHz","t":475,"v":0.063},{"s":"1 MHz","t":480,"v":0.065},{"s":"1 MHz","t":485,"v":0.067},{"s":"1 MHz","t":490,"v":0.069},{"s":"1 MHz","t":495,"v":0.071},{"s":"1 MHz","t":500,"v":0.073},{"s":"1 MHz","t":505,"v":0.075},{"s":"1 MHz","t":510,"v":0.077},{"s":"1 MHz","t":515,"v":0.079},{"s":"1 MHz","t":520,"v":0.081},{"s":"1 MHz","t":525,"v":0.083},{"s":"1 MHz","t":530,"v":0.085},{"s":"1 MHz","t":535,"v":0.087},{"s":"1 MHz","t":540,"v":0.089},{"s":"1 MHz","t":545,"v":0.091},{"s":"1 MHz","t":550,"v":0.094},{"s":"1 MHz","t":555,"v":0.097},{"s":"1 MHz","t":560,"v":0.1},{"s":"1 MHz","t":565,"v":0.103},{"s":"1 MHz","t":570,"v":0.106},{"s":"1 MHz","t":575,"v":0.109},{"s":"1 MHz","t":580,"v":0.112},{"s":"1 MHz","t":585,"v":0.115},{"s":"1 MHz","t":590,"v":0.118},{"s":"1 MHz","t":595,"v":0.121},{"s":"1 MHz","t":600,"v":0.125},{"s":"1 MHz","t":605,"v":0.14},{"s":"1 MHz","t":610,"v":0.15},{"s":"1 MHz","t":615,"v":0.162},{"s":"1 MHz","t":620,"v":0.172},{"s":"1 MHz","t":625,"v":0.182},{"s":"1 MHz","t":630,"v":0.192},{"s":"1 MHz","t":635,"v":0.202},{"s":"1 MHz","t":640,"v":0.212},{"s":"1 MHz","t":645,"v":0.222},{"s":"1 MHz","t":650,"v":0.23},{"s":"1 MHz","t":655,"v":0.235},{"s":"1 MHz","t":660,"v":0.24},{"s":"1 MHz","t":665,"v":0.245},{"s":"1 MHz","t":670,"v":0.25},{"s":"1 MHz","t":675,"v":0.258},{"s":"1 MHz","t":680,"v":0.266},{"s":"1 MHz","t":685,"v":0.275},{"s":"1 MHz","t":690,"v":0.285},{"s":"1 MHz","t":700,"v":0.3}
  ]},
  "encoding": {
    "x": {"field": "t", "type": "quantitative", "title": "Temerature (ᴼC)",
      "scale": {"domain": [-50, 800], "nice": false, "zero": false},
      "axis": {"values": [-50, 0, 50, 100, 150, 200, 250, 300, 350, 400, 450, 500, 550, 600, 650, 700, 750, 800],
        "labelExpr": "datum.value % 100 === 0 ? datum.label : ''",
        "tickSize": {"condition": {"test": "datum.value % 100 !== 0", "value": 6}, "value": 11},
        "labelPadding": 9, "titleBaseline": "alphabetic", "titleY": 87}},
    "y": {"field": "v", "type": "quantitative", "title": "Tan δ",
      "scale": {"domain": [-1, 4], "nice": false, "zero": false},
      "axis": {"values": [-1, 0, 1, 2, 3, 4],
        "labelExpr": "datum.value % 2 === 0 ? datum.label : ''",
        "tickSize": {"condition": {"test": "datum.value % 2 !== 0", "value": 6}, "value": 12},
        "labelPadding": 11, "titleBaseline": "alphabetic", "titleX": -61, "titleY": 338, "titleAngle": -90}},
    "color": {"field": "s", "type": "nominal",
      "scale": {"domain": ["100 Hz", "1 KHz", "5 KHz", "10 KHz", "20 KHz", "50 KHz", "1 MHz"],
        "range": ["#000000", "#ff0000", "#00ff00", "#0000ff", "#00ffff", "#ff00ff", "#ffff00"]},
      "legend": {"orient": "none", "legendX": 62, "legendY": 15, "title": null,
        "symbolType": "M-5.1,-0.07L5.1,-0.07L5.1,0.07L-5.1,0.07ZM-0.5,-0.5L0.5,-0.5L0.5,0.5L-0.5,0.5Z",
        "symbolSize": 256, "symbolStrokeWidth": 0, "symbolOpacity": 1,
        "labelFont": "Liberation Serif", "labelFontSize": 30, "labelColor": "black",
        "labelOffset": 36, "rowPadding": 7, "padding": 0}}
  },
  "layer": [
    {"transform": [{"filter": "datum.t < 285"}], "mark": {"type": "line", "strokeWidth": 1}},
    {"transform": [{"filter": "datum.t > 285"}], "mark": {"type": "line", "strokeWidth": 1}},
    {"mark": {"type": "point", "shape": "square", "filled": true, "size": 64, "opacity": 1}},
    {"data": {"values": [{"label": "LNF3", "t": 710, "v": -0.755}]},
     "mark": {"type": "text", "font": "Liberation Serif", "fontSize": 37, "align": "center", "baseline": "alphabetic"},
     "encoding": {"text": {"field": "label"}, "color": {"value": "black"}}}
  ]
}
